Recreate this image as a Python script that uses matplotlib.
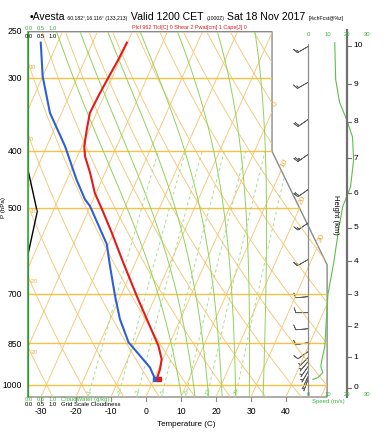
#!/usr/bin/env python3
"""Skew-T sounding for Avesta, Sat 18 Nov 2017 -> out.png"""
import numpy as np
import matplotlib
matplotlib.use("Agg")
import matplotlib.pyplot as plt
from matplotlib.patches import Polygon

plt.rcParams["font.family"] = ["Liberation Sans", "DejaVu Sans"]

# --- sounding ---
temp_p = [978, 941, 905, 859, 783, 706, 619, 550, 502, 471, 435, 408, 392,
          367, 344, 322, 300, 279, 261]
temp_c = [0.8, 0.5, -0.3, -2.9, -8.8, -15.4, -23.5, -30.6, -36.3, -40.4,
          -44.3, -47.8, -49.3, -50.7, -51.9, -51.6, -51.1, -50.5, -50.2]
dewp_p = [978, 935, 893, 847, 773, 706, 628, 576, 496, 483, 447, 392, 344, 298, 261]
dewp_c = [0.3, -2.6, -6.9, -11.9, -17.3, -21.6, -26.8, -30.5, -40.1, -42.4, -47.3,
          -54.8, -63.3, -70.0, -74.8]

spd_p = [980, 973, 954, 932, 907, 862, 754, 702, 619, 544, 497, 460, 413, 378,
         353, 330, 302, 261]
spd_ms = [2.5, 5.1, 7.6, 6.6, 7.1, 8.6, 9.6, 10.2, 13.2, 15.7, 17.8, 21.8, 23.4,
          22.8, 19.8, 16.2, 14.2, 13.7]

barb_p = [980, 969, 950, 932, 914, 900, 879, 848, 803, 754, 708, 612, 530, 465,
          405, 353, 305, 265]
barb_dir = [200, 205, 210, 215, 220, 225, 235, 260, 265, 270, 265, 240, 235, 235,
            235, 235, 240, 240]

cld_p = [1050, 596, 507, 433, 250]
cld_frac = [0.0, 0.0, 0.36, 0.0, 0.0]
qc_p = [1050, 250]
qc_gkg = [0.0, 0.0]

p_ticks = [250, 300, 400, 500, 700, 850, 1000]
isobars = [300, 400, 500, 700, 850, 1000]
t_ticks = [-30, -20, -10, 0, 10, 20, 30, 40]
km_ticks = list(range(0, 11))
spd_ticks = [0, 10, 20, 30]
mix_ratios = [1, 2, 3, 5, 8, 12, 20]
moist_t0 = [8, 12, 16, 20, 24, 28, 32]

ORANGE = "#f3c46c"
LABEL_OR = "#eeaa3c"
ISOBAR = "#f5c243"
GREEN = "#8fd35a"
GREY = "#8a8a8a"
W, H = 387, 432


def sk_y(p):
    return 132.182 - 44.061 * np.log10(p)


def sk_x(t, y):
    return 0.54 * np.asarray(t, dtype=float) + 0.90692 * np.asarray(y, dtype=float)


def es(tc):
    return 6.112 * np.exp(17.67 * tc / (tc + 243.5))


def moist(t0, p):
    Rd, cp, Lv, eps = 287.04, 1005.7, 2.501e6, 0.622

    def f(T, pp):
        e = es(T - 273.15)
        rs = eps * e / (pp - e)
        return (Rd * T + Lv * rs) / (pp * (cp + Lv * Lv * rs * eps / (Rd * T * T)))

    T = t0 + 273.15
    out = [T]
    for a, b in zip(p[:-1], p[1:]):
        k1 = f(T, a)
        k2 = f(T + k1 * (b - a), b)
        T = T + 0.5 * (k1 + k2) * (b - a)
        out.append(T)
    return np.array(out) - 273.15


fig = plt.figure(figsize=(W / 100, H / 100), dpi=100)
Y0, Y1 = sk_y(1050), sk_y(250)
ax = fig.add_axes([28.35 / W, (H - 397) / H, 358.65 / W, 365.3 / H])
ax.set_xlim(-19.0, 36.34)
ax.set_ylim(Y0, Y1)
ax.axis("off")

ox = [-19.0, 27.1, 27.1, 18.6, 18.6, -19.0]
oy = [Y0, Y0, 9.0, 17.53, Y1, Y1]
clip = Polygon(np.column_stack([ox, oy]), closed=True, transform=ax.transData,
               fc="none", ec="none")
ax.add_patch(clip)


def bg(x, y, **kw):
    ln, = ax.plot(x, y, **kw)
    ln.set_clip_path(clip)


# background
yy = np.array([Y0, Y1])
for t in range(-100, 60, 10):
    bg(sk_x(t, yy), yy, color=ORANGE, lw=0.6)
pp = np.geomspace(1050, 250, 80)
for th in range(-40, 160, 10):
    tt = (th + 273.15) * (pp / 1000.0) ** 0.2857 - 273.15
    bg(sk_x(tt, sk_y(pp)), sk_y(pp), color=ORANGE, lw=0.6)
for p in isobars:
    bg([-19, 27.1], [sk_y(p)] * 2, color=ISOBAR, lw=1.0)
up = np.geomspace(1000, 250, 120)
dn = np.geomspace(1000, 1050, 10)
for t0 in moist_t0:
    tu, td = moist(t0, up), moist(t0, dn)
    bg(sk_x(tu, sk_y(up)), sk_y(up), color=GREEN, lw=0.7)
    bg(sk_x(td, sk_y(dn)), sk_y(dn), color=GREEN, lw=0.7)
pw = np.geomspace(1050, 400, 40)
for w in mix_ratios:
    e = w * pw / (622.0 + w)
    le = np.log(e / 6.112)
    tdw = 243.5 * le / (17.67 - le)
    bg(sk_x(tdw, sk_y(pw)), sk_y(pw), color="#a6dc8c", lw=0.7, ls=(0, (3, 3)))
    e0 = w * 1030 / (622.0 + w)
    l0 = np.log(e0 / 6.112)
    ax.text(sk_x(243.5 * l0 / (17.67 - l0), sk_y(1030)), sk_y(1030), str(w),
            fontsize=4, color="#7cc95a", ha="center", va="center", rotation=70)

ax.add_patch(Polygon(np.column_stack([ox, oy]), closed=True, fc="none", ec=GREY,
                     lw=1.0, clip_on=False))

# isotherm labels on the cut corner
for t in [0, 10, 20, 30]:
    ys = np.linspace(Y0, Y1, 2000)
    xs = sk_x(t, ys)
    edge = np.interp(ys, [Y0, 9.0, 17.53, Y1], [27.1, 27.1, 18.6, 18.6])
    i = np.argmax(xs > edge)
    ax.text(xs[i] + 0.5, ys[i] + 0.55, str(t), fontsize=6, color=LABEL_OR,
            rotation=62, ha="center", va="center")
# dry adiabat labels on left edge
pg = np.geomspace(1050, 250, 400)
for th in [10, 0, -10, -20, -30]:
    tt = (th + 273.15) * (pg / 1000.0) ** 0.2857 - 273.15
    xs = sk_x(tt, sk_y(pg))
    i = np.argmin(np.abs(xs + 19.0))
    ax.text(-18.8, sk_y(pg[i]) - 0.35, str(th), fontsize=4, color=LABEL_OR,
            ha="left", va="center")

# profiles
ax.plot(np.asarray(cld_frac) * 3.8 - 19.0, sk_y(np.array(cld_p)), color="black", lw=1.0)
ax.plot(np.asarray(qc_gkg) * 3.8 - 19.0, sk_y(np.array(qc_p)), color="#3cb43c", lw=1.2,
        clip_on=False)
ax.plot(sk_x(dewp_c, sk_y(np.array(dewp_p))), sk_y(np.array(dewp_p)), color="#2e5fd6", lw=1.5)
ax.plot(sk_x(temp_c, sk_y(np.array(temp_p))), sk_y(np.array(temp_p)), color="#e41a1c", lw=1.5)
ax.plot(sk_x(dewp_c[0], sk_y(dewp_p[0])), sk_y(dewp_p[0]), "s", color="#2e5fd6", ms=2.5)
ax.plot(sk_x(temp_c[0], sk_y(temp_p[0])) + 0.3, sk_y(temp_p[0]), "s", color="#e41a1c", ms=2.5)

# wind speed panel
S0, SK = 24.15, 0.301
ax.plot([S0, S0], [sk_y(1040), sk_y(262)], color=GREY, lw=0.9)
ax.plot(S0 + SK * np.asarray(spd_ms), sk_y(np.array(spd_p)), color="#5cbf4a", lw=0.8)
bs = np.interp(barb_p[::-1], spd_p[::-1], spd_ms[::-1])[::-1]
rad = np.deg2rad(barb_dir)
ax.barbs(np.full(len(barb_p), S0), sk_y(np.array(barb_p)), -bs * np.sin(rad),
         -bs * np.cos(rad), length=4.2, linewidth=0.55, color="#606060", clip_on=False)

# height axis
HX = 30.17
ax.plot([HX, HX], [Y0, Y1 + 0.1], color="#707070", lw=1.6, clip_on=False)
for km in km_ticks:
    pz = 1013.25 * (1 - 2.25577e-5 * km * 1000) ** 5.25588
    ax.plot([HX, HX + 0.6], [sk_y(pz)] * 2, color="#707070", lw=0.8)
    ax.text(HX + 1.0, sk_y(pz), str(km), fontsize=6, va="center", ha="left")
fig.text(336 / W, 1 - 215 / H, "Height (km)", rotation=270, fontsize=5.5,
         ha="center", va="center")

# axis labels
for p in p_ticks:
    fig.text(22 / W, 1 - (31.7 + 255.2 * np.log(p / 250.0)) / H, str(p), fontsize=6.2,
             ha="right", va="center")
fig.text(4 / W, 1 - 208 / H, "P (hPa)", rotation=90, fontsize=4.5, ha="center", va="center")
for t in t_ticks:
    xt = sk_x(t, Y0)
    ax.plot([xt, xt], [Y0, Y0 - 0.3], color=GREY, lw=0.8, clip_on=False)
    fig.text((28.35 + (xt + 19.0) * 6.481) / W, 1 - 412 / H, str(t), fontsize=6.2,
             ha="center", va="center")
fig.text(186 / W, 1 - 424 / H, "Temperature (C)", fontsize=5.8, ha="center", va="center")

for s in spd_ticks:
    for yp in (35, 395):
        fig.text((308 + 1.97 * s) / W, 1 - yp / H, str(s), fontsize=4.2, color="#3cb43c",
                 ha="center", va="center")
fig.text(328 / W, 1 - 402 / H, "Speed (m/s)", fontsize=4.3, color="#3cb43c",
         ha="center", va="center")

for xv, lab in zip([29, 41, 53], ["0.0", "0.5", "1.0"]):
    fig.text(xv / W, 1 - 28 / H, lab, fontsize=4.2, color="#3cb43c", ha="center", va="center")
    fig.text(xv / W, 1 - 36 / H, lab, fontsize=4.2, color="black", ha="center", va="center")
    fig.text(xv / W, 1 - 399.5 / H, lab, fontsize=4.2, color="#3cb43c", ha="center", va="center")
    fig.text(xv / W, 1 - 405 / H, lab, fontsize=4.2, color="black", ha="center", va="center")
fig.text(61 / W, 1 - 399.5 / H, "CloudWater (g/kg)", fontsize=4.3, color="#3cb43c", va="center")
fig.text(61 / W, 1 - 405 / H, "Grid Scale Cloudiness", fontsize=4.3, color="black", va="center")

# title, drawn piece by piece
r = fig.canvas.get_renderer()
x = 30
for s, size in [("\u2022Avesta", 7.6), (" 60.182\u00b0,16.116\u00b0 (133,213) ", 3.7),
                (" Valid 1200 CET ", 7.6), ("(1000Z)", 3.7), (" Sat 18 Nov 2017 ", 7.6),
                ("[%chFcst@%z]", 3.7)]:
    t = fig.text(x / W, 1 - 20 / H, s, fontsize=size, va="baseline", ha="left")
    x += t.get_window_extent(r).width
fig.text(132 / W, 1 - 28 / H, "Plcl 962 Tlcl[C] 0 Shear 2 Pwat[cm] 1 Cape[J] 0",
         fontsize=4.0, color="#e41a1c", va="center", ha="left")

fig.savefig("out.png", dpi=100)
